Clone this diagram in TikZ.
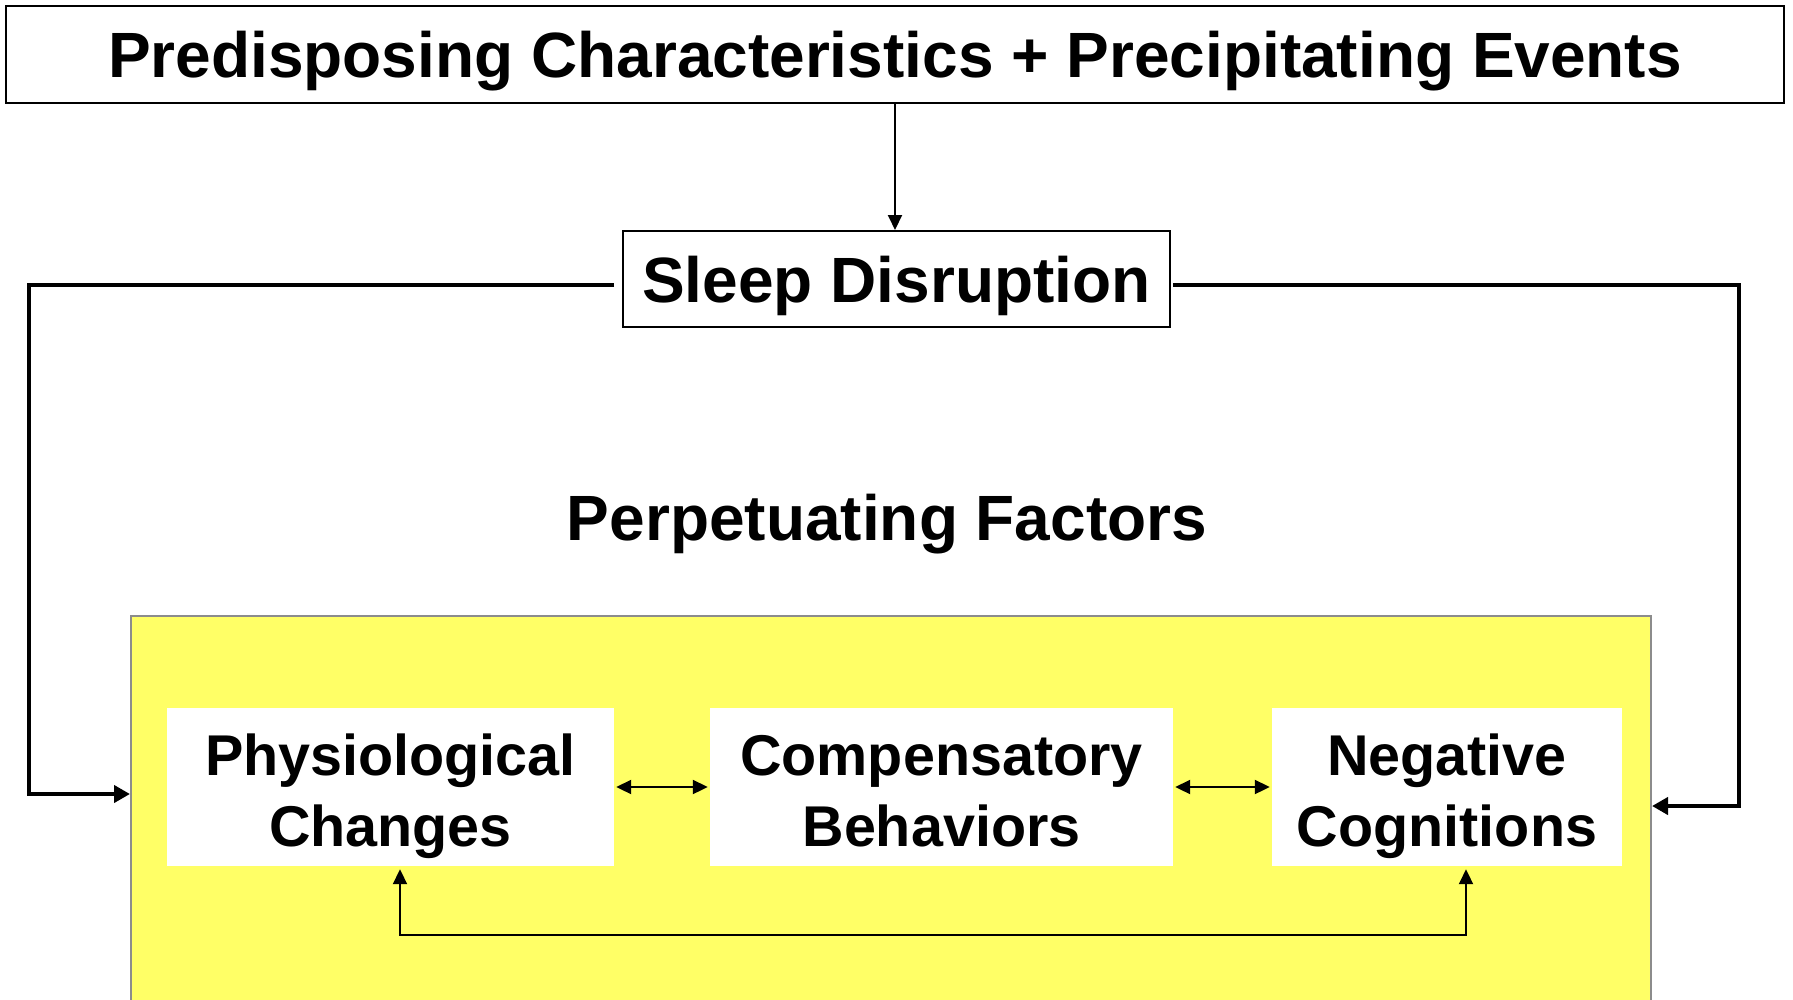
\documentclass[tikz,border=0pt]{standalone}
\usepackage{fontspec}
\setmainfont{Liberation Sans}
\usetikzlibrary{arrows.meta}
\definecolor{factorfill}{HTML}{FFFF66}
\definecolor{factorline}{HTML}{8C8C8C}

\begin{document}
\begin{tikzpicture}[x=1pt,y=-1pt,>={Triangle[length=15pt,width=14pt]},
  title box/.style={rectangle,draw,line width=2pt,fill=white,inner sep=0pt,text height=46pt,text depth=0pt,font=\bfseries\fontsize{64}{70}\selectfont},
  factor box/.style={rectangle,fill=white,inner sep=0pt,minimum height=158pt,text height=130pt,text depth=12pt,align=center,font=\bfseries\fontsize{57.5}{71}\selectfont},
  feedback/.style={->,line width=4pt,>={Triangle[length=16pt,width=17pt]}},
  link/.style={line width=2pt,shorten >=2pt}]
  \useasboundingbox (0,0) rectangle (1793,999);

  \node[title box,minimum width=1778pt,minimum height=97pt] (events) at (895,54.5) {Predisposing Characteristics + Precipitating Events};
  \node[title box,minimum width=547pt,minimum height=96pt] (sleep) at (896.5,279) {Sleep Disruption};
  \node[font=\bfseries\fontsize{64}{70}\selectfont] (perp) at (887,524) {Perpetuating Factors};

  % yellow panel runs off the page
  \node[draw=factorline,line width=2pt,fill=factorfill,anchor=north west,minimum width=1520pt,minimum height=420pt] (factors) at (130,615) {};
  \node[factor box,minimum width=447pt] (phys) at (390.5,787) {Physiological\\Changes};
  \node[factor box,minimum width=463pt] (comp) at (941.5,787) {Compensatory\\Behaviors};
  \node[factor box,minimum width=350pt] (neg) at (1447,787) {Negative\\Cognitions};

  \coordinate (lcorner) at (29,794);
  \coordinate (rcorner) at (1739,806);
  \coordinate (pleft) at (400,935);
  \coordinate (nright) at (1466,935);

  \draw[link,->,shorten >=0pt] (events.south -| 895,0) -- (sleep.north -| 895,0);
  \draw[feedback] ([shift={(-8,6)}]sleep.west) -| (lcorner) -- (lcorner -| factors.west);
  \draw[feedback] ([shift={(2,6)}]sleep.east) -| (rcorner) -- (rcorner -| factors.east);
  \draw[link,<->,shorten <=2pt] (phys.east) -- (comp.west);
  \draw[link,<->,shorten <=2pt] (comp.east) -- (neg.west);
  \draw[link,<->,shorten <=3pt,shorten >=3pt] (phys.south -| pleft) -- (pleft) -- (nright) -- (neg.south -| nright);
\end{tikzpicture}
\end{document}
